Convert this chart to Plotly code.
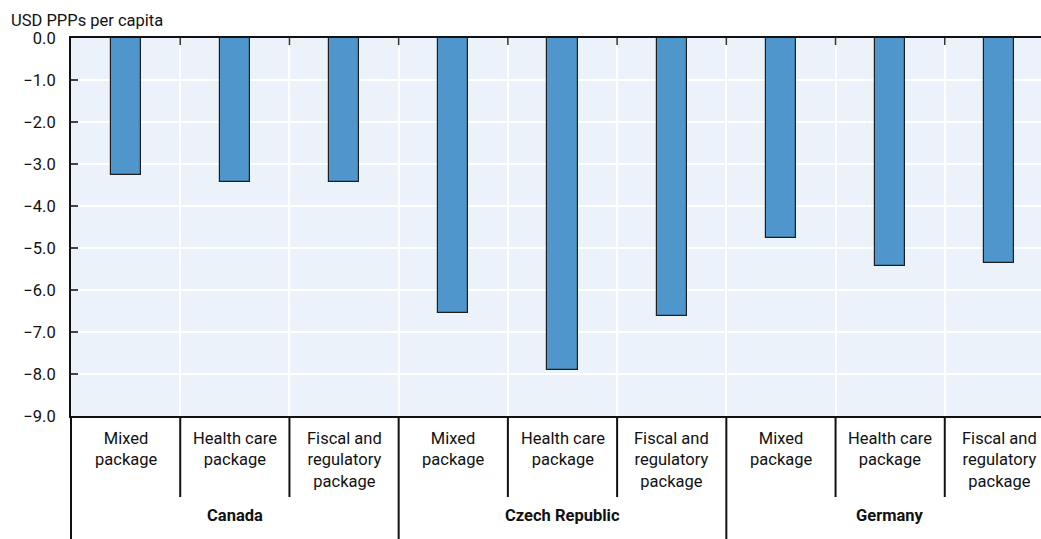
import plotly.graph_objects as go

# Values: change in USD PPPs per capita, by country and policy package
countries = ["Canada", "Czech Republic", "Germany"]
packages = ["Mixed package", "Health care package", "Fiscal and regulatory package"]
package_labels = ["Mixed<br>package", "Health care<br>package", "Fiscal and<br>regulatory<br>package"]
values = [
    -3.27, -3.42, -3.44,   # Canada
    -6.54, -7.90, -6.62,   # Czech Republic
    -4.75, -5.43, -5.36,   # Germany
]
y_ticks = [0, -1, -2, -3, -4, -5, -6, -7, -8, -9]

FONT = "Roboto, Liberation Sans, Arial, sans-serif"
BAR = "#4F96CD"
BG = "#EBF2FA"
TXT = "#111111"

n_pk = len(packages)
xs = list(range(len(values)))
hover = [f"{countries[i // n_pk]} – {packages[i % n_pk]}" for i in xs]

fig = go.Figure(
    go.Bar(
        x=xs,
        y=values,
        width=0.275,
        marker=dict(color=BAR, line=dict(color="#1E1E1E", width=1.2)),
        hovertext=hover,
        hoverinfo="text+y",
    )
)

# plot height in pixels (used to express label offsets in paper units)
W, H = 1041, 539
ML, MR, MT, MB = 71, 0, 38, 123
PH = H - MT - MB


def py(px_below_axis):
    """paper y for a position given in pixels below the x axis line"""
    return -px_below_axis / PH


shapes = []
annotations = []

# Package labels under each bar
for i in xs:
    annotations.append(dict(
        x=i, xref="x", y=py(11), yref="paper", yanchor="top", xanchor="center",
        text=package_labels[i % n_pk], showarrow=False, align="center",
        font=dict(family=FONT, size=16.5, color=TXT),
    ))

# Country labels
for g, c in enumerate(countries):
    annotations.append(dict(
        x=g * n_pk + (n_pk - 1) / 2, xref="x", y=py(99), yref="paper",
        yanchor="middle", xanchor="center",
        text=f"<b>{c}</b>", showarrow=False,
        font=dict(family=FONT, size=16.5, color=TXT),
    ))

# Dividers in the label area
for i in range(len(values) - 1):
    b = i + 0.5
    group_edge = (i + 1) % n_pk == 0
    shapes.append(dict(
        type="line", xref="x", yref="paper", x0=b, x1=b,
        y0=0, y1=py(123 if group_edge else 81),
        line=dict(color="#111111", width=2),
    ))
    # short tick at the top of the plot area
    shapes.append(dict(
        type="line", xref="x", yref="paper", x0=b, x1=b,
        y0=1, y1=1 - 7 / PH, line=dict(color="#333333", width=1.5),
    ))
shapes.append(dict(
    type="line", xref="paper", yref="paper", x0=0, x1=0,
    y0=0, y1=py(123), line=dict(color="#111111", width=2),
))

# Unit label
annotations.append(dict(
    x=0, xref="paper", xshift=-62, xanchor="left",
    y=1, yref="paper", yshift=18, yanchor="middle",
    text="USD PPPs per capita", showarrow=False,
    font=dict(family=FONT, size=16.5, color=TXT),
))

fig.update_layout(
    width=W, height=H,
    margin=dict(l=ML, r=MR, t=MT, b=MB),
    paper_bgcolor="white",
    plot_bgcolor=BG,
    showlegend=False,
    font=dict(family=FONT, size=16, color=TXT),
    shapes=shapes,
    annotations=annotations,
    bargap=0,
)

fig.update_xaxes(
    range=[-0.5, len(values) - 0.5 - 13 / 109.3],
    tick0=-0.5, dtick=1, showticklabels=False, ticks="",
    showgrid=True, gridcolor="white", gridwidth=1.5,
    zeroline=False,
    showline=True, linecolor="#111111", linewidth=2, mirror=True,
)

fig.update_yaxes(
    range=[-9, 0],
    tickvals=y_ticks, tickformat=".1f",
    ticks="inside", ticklen=7, tickcolor="#444444", tickwidth=1.5,
    ticklabelstandoff=10,
    tickfont=dict(family=FONT, size=16.5, color=TXT),
    showgrid=True, gridcolor="white", gridwidth=1.5,
    zeroline=False,
    showline=True, linecolor="#111111", linewidth=2,
)

fig.write_html("out.html")
